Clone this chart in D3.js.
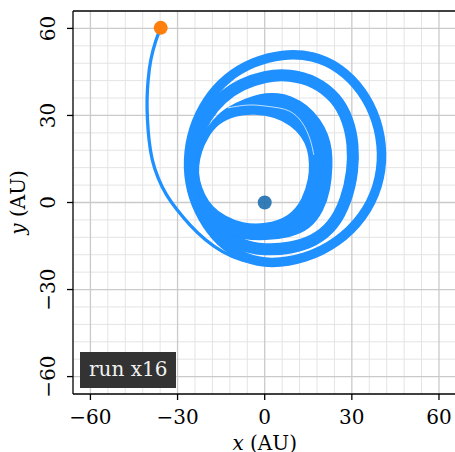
<!DOCTYPE html>
<html>
<head>
<meta charset="utf-8">
<script src="https://cdn.jsdelivr.net/npm/d3@7"></script>
<style>
  html, body { margin: 0; padding: 0; background: #fff; }
  svg { display: block; }
  text { font-family: "DejaVu Serif", serif; }
</style>
</head>
<body>
<svg id="chart" width="455" height="452"></svg>
<script>
// Axis settings (AU)
const axisDomain = [-66, 66];
const majorTicks = [-60, -30, 0, 30, 60];
const minorStep = 6;

// Body positions
const sunPos = [0, 0];
const startPos = [-35.8, 60.2];

// Inbound arc from the start point into the first loop
const tailPath = [
  [-35.8, 60.2], [-37.5, 56.0], [-39.4, 49.1], [-40.2, 42.2], [-40.6, 35.3],
  [-40.4, 28.4], [-39.9, 21.6], [-38.9, 14.7], [-36.8, 8.4], [-34.0, 2.6],
  [-30.2, -2.6], [-25.8, -7.8], [-20.6, -12.9], [-14.7, -17.1], [-7.8, -20.2],
  [0.1, -21.2], [8.7, -21.0]
];

// Outer loops (a few close passes): centre line of the band
const outerLoop = [
  [2.0, -21.3], [14.0, -19.4], [25.0, -14.0], [34.0, -5.2], [39.3, 5.5],
  [40.8, 17.0], [38.8, 28.5], [33.8, 38.5], [26.0, 46.5], [16.5, 50.8],
  [6.0, 51.2], [-4.0, 48.5], [-13.0, 43.3], [-20.2, 35.2], [-24.8, 25.5],
  [-26.7, 14.7], [-25.6, 4.0], [-21.8, -5.2], [-15.5, -13.9], [-7.0, -19.3]
];
// Middle loops: centre line of the band
const middleLoop = [
  [0.0, -16.5], [9.0, -15.8], [16.8, -13.4], [23.5, -8.4], [28.2, 0.8],
  [30.4, 11.0], [30.5, 20.0], [28.8, 28.5], [24.6, 36.2], [17.5, 41.8],
  [8.5, 44.2], [0.0, 43.6], [-8.0, 40.8], [-15.0, 36.2], [-20.5, 29.5],
  [-24.0, 21.5], [-25.2, 12.5], [-24.2, 4.0], [-21.0, -3.8], [-15.8, -10.3],
  [-8.5, -14.8]
];
// Inner loops (many passes): outermost and innermost pass
const innerLoopOuter = [
  [0.1, -12.9], [8.7, -11.9], [15.6, -9.1], [20.1, -2.9], [22.5, 4.3],
  [23.2, 12.9], [23.0, 18.1], [21.8, 23.3], [19.1, 28.4], [14.6, 33.6],
  [8.7, 36.7], [4.6, 37.6], [0.1, 37.5], [-3.3, 36.7], [-10.2, 34.2],
  [-15.4, 31.0], [-19.9, 25.7], [-22.7, 19.8], [-24.0, 12.9], [-23.7, 6.0],
  [-22.0, -0.9], [-18.9, -6.7], [-14.4, -10.5], [-7.5, -12.6]
];
const innerLoopInner = [
  [0.1, -7.8], [8.7, -5.0], [13.2, 0.9], [15.4, 8.3], [15.6, 13.5],
  [15.0, 18.5], [12.8, 23.0], [9.0, 26.8], [3.6, 29.6], [-3.3, 30.8],
  [-10.2, 30.2], [-16.1, 27.4], [-19.8, 22.5], [-22.0, 17.5], [-23.0, 12.5],
  [-22.8, 7.8], [-20.9, 2.6], [-18.2, -1.6], [-13.7, -5.0], [-7.8, -7.4]
];
// Narrow opening between two passes of the inner loops
const innerLoopGap = [
  [-12.7, 32.6], [-5.1, 34.0], [1.8, 33.0], [8.7, 32.2], [13.2, 27.8],
  [15.9, 21.6], [16.9, 16.4]
];

const legendLabel = "run x16";
const xLabelVar = "x", yLabelVar = "y", unitLabel = " (AU)";

// ---- layout ----
const svg = d3.select("#chart");
const plot = { left: 73, top: 11, right: 456.4, bottom: 394 };

const x = d3.scaleLinear().domain(axisDomain).range([plot.left, plot.right]);
const y = d3.scaleLinear().domain(axisDomain).range([plot.bottom, plot.top]);

const fmt = v => (v < 0 ? "\u2212" + Math.abs(v) : String(v));
const minorTicks = d3.range(axisDomain[0], axisDomain[1] + 0.001, minorStep)
  .filter(v => !majorTicks.includes(v) && v > axisDomain[0] && v < axisDomain[1]);

svg.append("defs").append("clipPath").attr("id", "plotClip")
  .append("rect")
  .attr("x", plot.left).attr("y", plot.top)
  .attr("width", plot.right - plot.left).attr("height", plot.bottom - plot.top);

// grid
const grid = svg.append("g");
grid.selectAll(".vminor").data(minorTicks).join("line")
  .attr("x1", d => x(d)).attr("x2", d => x(d))
  .attr("y1", plot.top).attr("y2", plot.bottom)
  .attr("stroke", "#e4e4e4").attr("stroke-width", 1);
grid.selectAll(".hminor").data(minorTicks).join("line")
  .attr("y1", d => y(d)).attr("y2", d => y(d))
  .attr("x1", plot.left).attr("x2", plot.right)
  .attr("stroke", "#e4e4e4").attr("stroke-width", 1);
grid.selectAll(".vmajor").data(majorTicks).join("line")
  .attr("x1", d => x(d)).attr("x2", d => x(d))
  .attr("y1", plot.top).attr("y2", plot.bottom)
  .attr("stroke", "#cacaca").attr("stroke-width", 1.3);
grid.selectAll(".hmajor").data(majorTicks).join("line")
  .attr("y1", d => y(d)).attr("y2", d => y(d))
  .attr("x1", plot.left).attr("x2", plot.right)
  .attr("stroke", "#cacaca").attr("stroke-width", 1.3);

// trajectory
const orbitColor = "#1e90ff";
const marks = svg.append("g").attr("clip-path", "url(#plotClip)");
const loopLine = d3.line().x(d => x(d[0])).y(d => y(d[1])).curve(d3.curveBasisClosed);
const openLine = d3.line().x(d => x(d[0])).y(d => y(d[1])).curve(d3.curveBasis);

marks.append("path")
  .attr("d", loopLine(outerLoop))
  .attr("fill", "none").attr("stroke", orbitColor).attr("stroke-width", 9.5);
marks.append("path")
  .attr("d", loopLine(middleLoop))
  .attr("fill", "none").attr("stroke", orbitColor).attr("stroke-width", 12);
marks.append("path")
  .attr("d", loopLine(innerLoopOuter) + loopLine(innerLoopInner))
  .attr("fill", orbitColor).attr("fill-rule", "evenodd")
  .attr("stroke", orbitColor).attr("stroke-width", 1.5);

marks.append("path")
  .attr("d", openLine(innerLoopGap))
  .attr("fill", "none")
  .attr("stroke", "#ffffff")
  .attr("stroke-opacity", 0.8)
  .attr("stroke-width", 0.9);

marks.append("path")
  .attr("d", openLine(tailPath))
  .attr("fill", "none")
  .attr("stroke", orbitColor)
  .attr("stroke-width", 3.3)
  .attr("stroke-linecap", "round");

// bodies
marks.append("circle")
  .attr("cx", x(sunPos[0])).attr("cy", y(sunPos[1])).attr("r", 7)
  .attr("fill", "#1f6fae").attr("fill-opacity", 0.9);
marks.append("circle")
  .attr("cx", x(startPos[0])).attr("cy", y(startPos[1])).attr("r", 7)
  .attr("fill", "#ff7f0e");

// spines
const spines = svg.append("g").attr("stroke", "#000").attr("stroke-width", 1.3).attr("fill", "none");
spines.append("line").attr("x1", plot.left).attr("x2", plot.left).attr("y1", plot.top).attr("y2", plot.bottom);
spines.append("line").attr("x1", plot.left).attr("x2", plot.right).attr("y1", plot.bottom).attr("y2", plot.bottom);
spines.append("line").attr("x1", plot.left).attr("x2", plot.right).attr("y1", plot.top).attr("y2", plot.top);
spines.append("line").attr("x1", plot.right).attr("x2", plot.right).attr("y1", plot.top).attr("y2", plot.bottom);

// ticks and tick labels
const tickLen = 6, fontSize = 20;
const axes = svg.append("g");
axes.selectAll(".xt").data(majorTicks).join("line")
  .attr("x1", d => x(d)).attr("x2", d => x(d))
  .attr("y1", plot.bottom).attr("y2", plot.bottom + tickLen)
  .attr("stroke", "#000").attr("stroke-width", 1.3);
axes.selectAll(".xl").data(majorTicks).join("text")
  .attr("x", d => x(d)).attr("y", 424)
  .attr("text-anchor", "middle").attr("font-size", fontSize)
  .text(fmt);
axes.selectAll(".yt").data(majorTicks).join("line")
  .attr("y1", d => y(d)).attr("y2", d => y(d))
  .attr("x1", plot.left).attr("x2", plot.left - tickLen)
  .attr("stroke", "#000").attr("stroke-width", 1.3);
axes.selectAll(".yl").data(majorTicks).join("text")
  .attr("transform", d => `translate(55,${y(d)}) rotate(-90)`)
  .attr("text-anchor", "middle").attr("font-size", fontSize)
  .text(fmt);

// axis titles
const xt = svg.append("text")
  .attr("x", x(0)).attr("y", 450)
  .attr("text-anchor", "middle").attr("font-size", fontSize);
xt.append("tspan").attr("font-style", "italic").text(xLabelVar);
xt.append("tspan").text(unitLabel);

const yt = svg.append("text")
  .attr("transform", `translate(25,${y(0)}) rotate(-90)`)
  .attr("text-anchor", "middle").attr("font-size", fontSize);
yt.append("tspan").attr("font-style", "italic").text(yLabelVar);
yt.append("tspan").text(unitLabel);

// legend badge
const badge = svg.append("g");
badge.append("rect")
  .attr("x", 80).attr("y", 352).attr("width", 96).attr("height", 36)
  .attr("fill", "#333333");
badge.append("text")
  .attr("x", 89).attr("y", 376)
  .attr("font-size", fontSize).attr("fill", "#f2f2f2")
  .text(legendLabel);
</script>
</body>
</html>
